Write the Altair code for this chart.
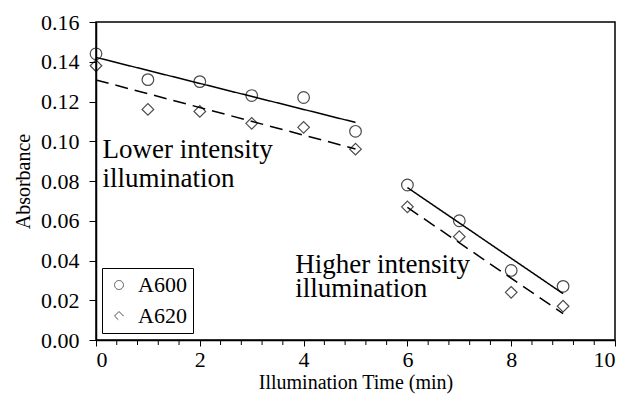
import altair as alt
import pandas as pd

times = [0, 1, 2, 3, 4, 5, 6, 7, 8, 9]
segments = ["low", "low", "low", "low", "low", "low", "high", "high", "high", "high"]
a600 = [0.144, 0.131, 0.130, 0.123, 0.122, 0.105, 0.078, 0.060, 0.035, 0.027]
a620 = [0.138, 0.116, 0.115, 0.109, 0.107, 0.096, 0.067, 0.052, 0.024, 0.017]

y_ticks = [0.00, 0.02, 0.04, 0.06, 0.08, 0.10, 0.12, 0.14, 0.16]
x_major = [0, 2, 4, 6, 8, 10]
x_minor = [0.4, 0.8, 1.2, 1.6, 2.4, 2.8, 3.2, 3.6, 4.4, 4.8, 5.2, 5.6,
           6.4, 6.8, 7.2, 7.6, 8.4, 8.8, 9.2, 9.6]

ann_text = ["Lower intensity", "illumination", "Higher intensity", "illumination"]
ann_x = [0.125, 0.125, 3.84, 3.84]
ann_y = [0.0916, 0.0770, 0.0337, 0.0216]

rows = []
for t, s, a, b in zip(times, segments, a600, a620):
    rows.append({"t": t, "seg": s, "series": "A600", "abs": a})
    rows.append({"t": t, "seg": s, "series": "A620", "abs": b})
df = pd.DataFrame(rows)
ann = pd.DataFrame({"text": ann_text, "x": ann_x, "y": ann_y})
minor = pd.DataFrame({"m": x_minor})

FONT = "Liberation Serif"

xscale = alt.Scale(domain=[0, 10], nice=False, zero=False)
yscale = alt.Scale(domain=[0, 0.16], nice=False)

xaxis = alt.Axis(values=x_major, format="d", tickSize=6, labelPadding=3,
                 title="Illumination Time (min)", titlePadding=2, titleFontSize=20)
yaxis = alt.Axis(values=y_ticks, format=".2f", tickSize=7, labelPadding=10,
                 title="Absorbance", titlePadding=7, titleFontSize=20)


def X(field):
    return alt.X(field, scale=xscale, axis=xaxis)


def Y(field):
    return alt.Y(field, scale=yscale, axis=yaxis)


base = alt.Chart(df)

points = base.mark_point(filled=False, size=135, strokeWidth=1.2, color="black").encode(
    x=X("t:Q"),
    y=Y("abs:Q"),
    shape=alt.Shape(
        "series:N",
        scale=alt.Scale(domain=["A600", "A620"], range=["circle", "diamond"]),
        legend=alt.Legend(title=None, orient="none", legendX=6, legendY=246),
    ),
)

lines = base.transform_regression(
    "t", "abs", groupby=["series", "seg"]
).transform_calculate(dash="datum.series").mark_line(color="black", strokeWidth=1.5).encode(
    x=X("t:Q"),
    y=Y("abs:Q"),
    strokeDash=alt.StrokeDash(
        "dash:N",
        scale=alt.Scale(domain=["A600", "A620"], range=[[1, 0], [13, 7]]),
        legend=None,
    ),
    detail="seg:N",
)

minor_ticks = alt.Chart(minor).mark_rule(color="black", strokeWidth=1, clip=False).encode(
    x=X("m:Q"),
    y=alt.value(318),
    y2=alt.value(323),
)

texts = alt.Chart(ann).mark_text(
    align="left", baseline="alphabetic", font=FONT, fontSize=27, color="black"
).encode(
    x=X("x:Q"),
    y=Y("y:Q"),
    text="text:N",
)

chart = alt.layer(points, lines, texts, minor_ticks).properties(
    width=519, height=318,
    autosize=alt.AutoSizeParams(type="none"),
    padding={"left": 88, "top": 14, "right": 3, "bottom": 55},
).configure(background="white", font=FONT).configure_view(
    stroke="black", strokeWidth=1.5
).configure_axis(
    labelFont=FONT, labelFontSize=22, labelColor="black",
    labelOverlap=False, titleFont=FONT, titleFontWeight="normal",
    titleColor="black", grid=False, domainColor="black", domainWidth=1.5,
    tickColor="black",
).configure_legend(
    strokeColor="black", padding=6, labelFont=FONT, labelFontSize=22,
    labelColor="black", symbolSize=80, symbolStrokeColor="black",
    symbolFillColor="white", symbolStrokeWidth=1, rowPadding=9, fillColor="white",
    labelOffset=8,
)

chart.save("out.html", embed_options={"renderer": "svg", "actions": False})
